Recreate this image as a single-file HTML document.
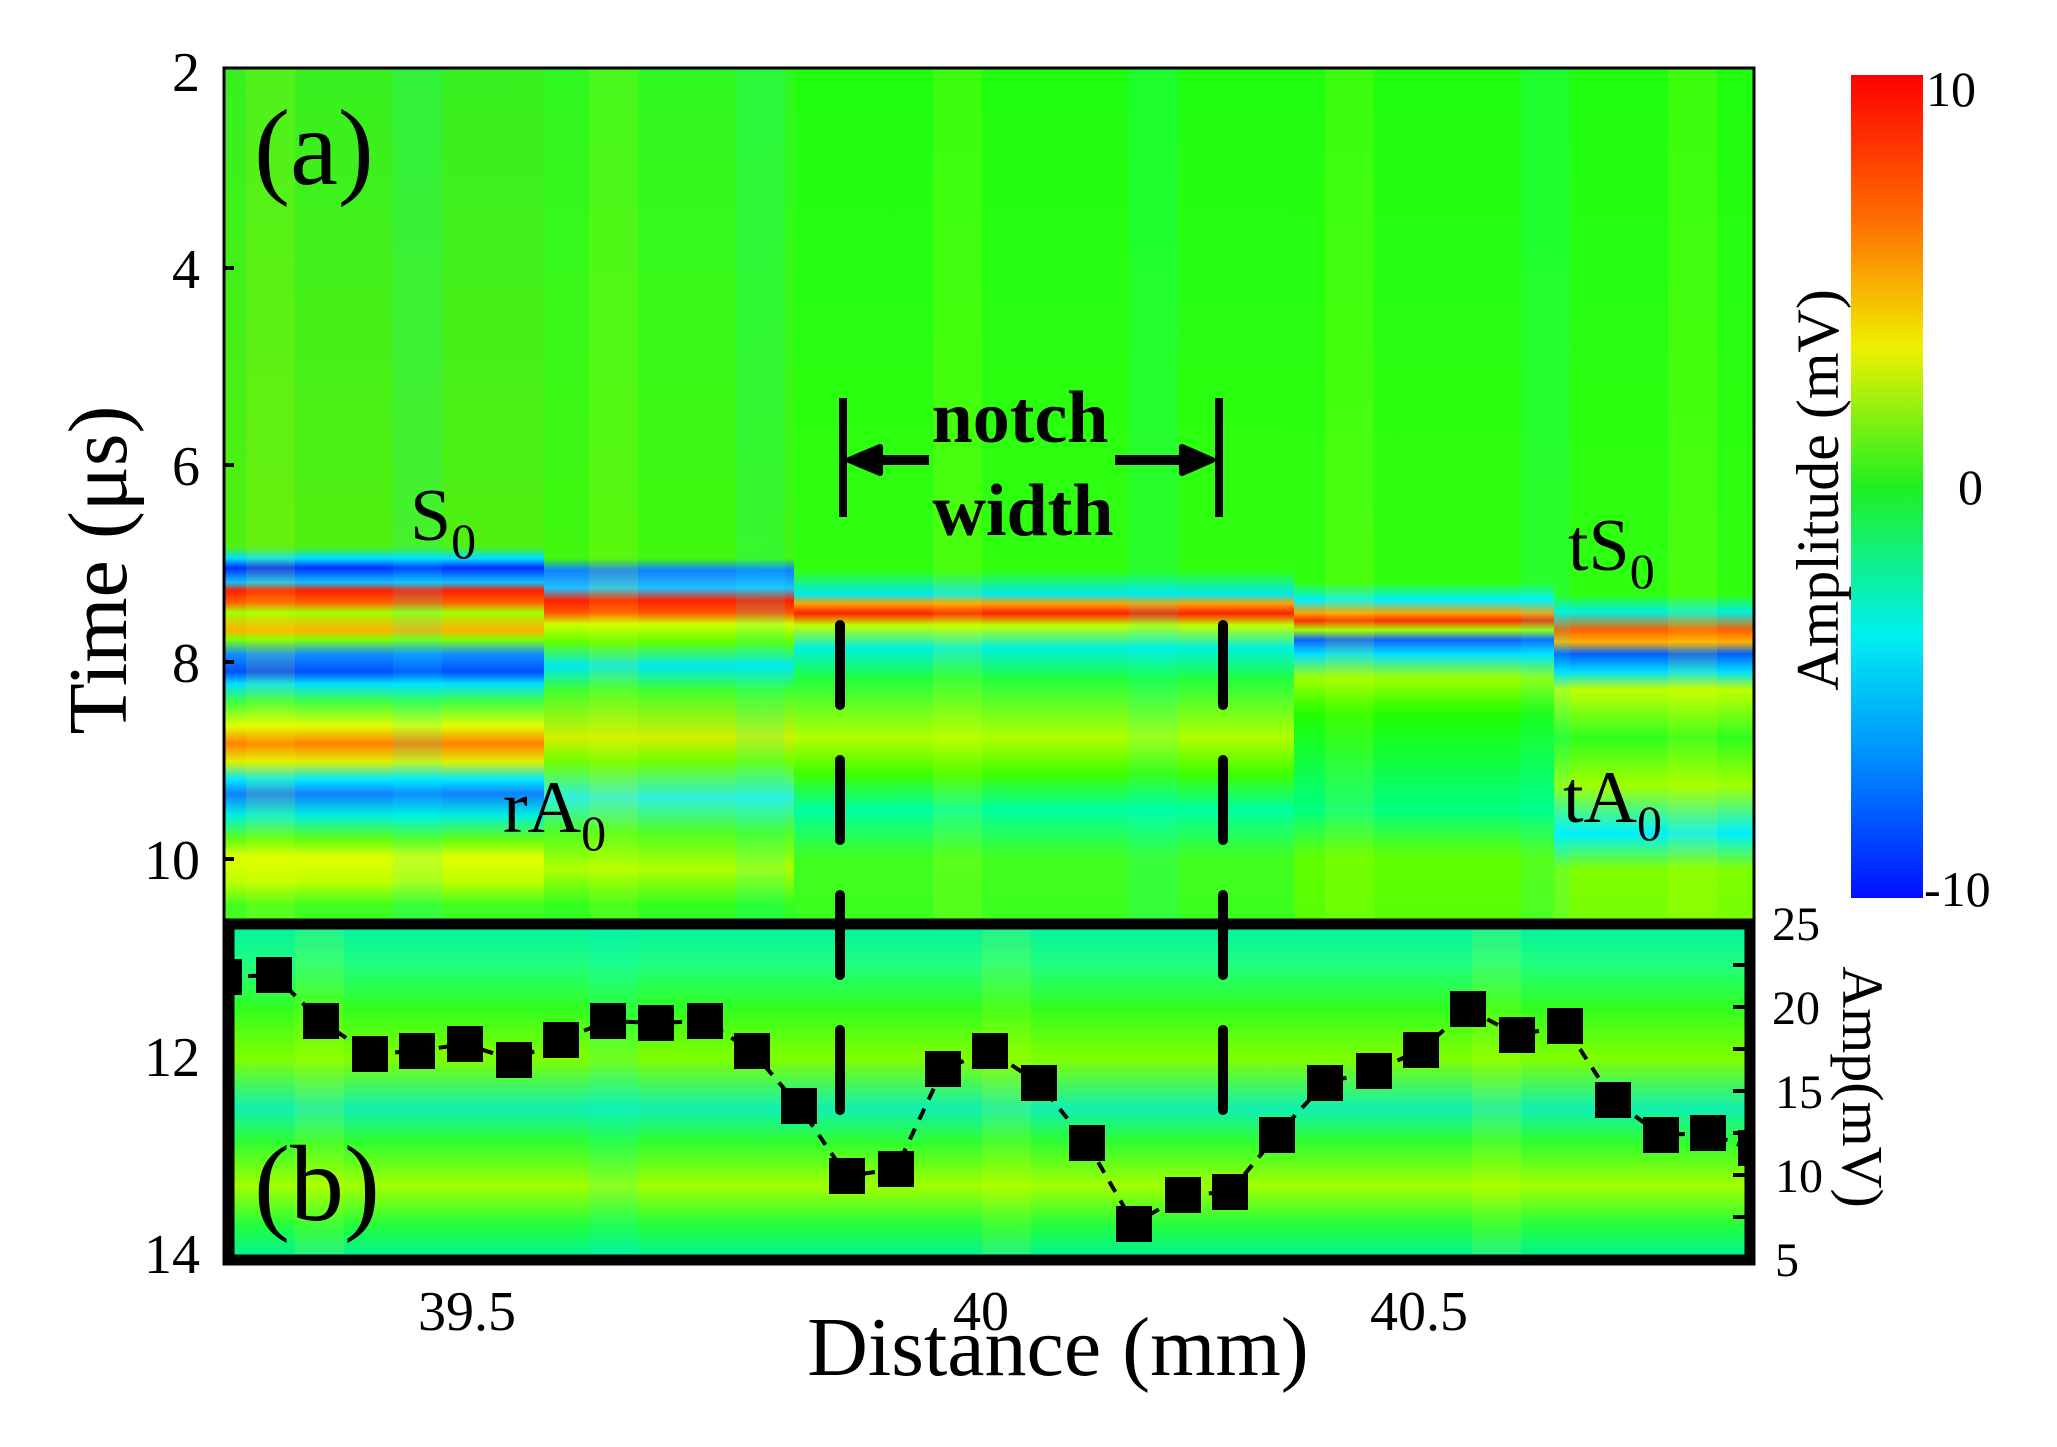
<!DOCTYPE html>
<html><head><meta charset="utf-8"><style>
html,body{margin:0;padding:0;background:#fff}
svg{display:block}
text{font-family:"Liberation Serif",serif;fill:#000}
</style></head><body>
<svg width="2057" height="1447" viewBox="0 0 2057 1447" xmlns="http://www.w3.org/2000/svg">
<defs>
<linearGradient id="gA" gradientUnits="userSpaceOnUse" x1="0" y1="68" x2="0" y2="1264">
<stop offset="0" stop-color="#38f020"/><stop offset="0.40" stop-color="#50f010"/><stop offset="0.41" stop-color="#00e0ff"/><stop offset="0.418" stop-color="#0030ff"/><stop offset="0.43" stop-color="#10c0ff"/><stop offset="0.437" stop-color="#ff2000"/><stop offset="0.447" stop-color="#ff6000"/><stop offset="0.455" stop-color="#a0ff00"/><stop offset="0.47" stop-color="#ffb000"/><stop offset="0.478" stop-color="#80ff00"/><stop offset="0.49" stop-color="#1090ff"/><stop offset="0.505" stop-color="#0050ff"/><stop offset="0.515" stop-color="#00e0ff"/><stop offset="0.53" stop-color="#40ff40"/><stop offset="0.55" stop-color="#e0ff00"/><stop offset="0.565" stop-color="#ff8000"/><stop offset="0.58" stop-color="#e0f000"/><stop offset="0.595" stop-color="#00e8ff"/><stop offset="0.607" stop-color="#1080ff"/><stop offset="0.625" stop-color="#00f0e0"/><stop offset="0.645" stop-color="#60ff10"/><stop offset="0.66" stop-color="#e0ff00"/><stop offset="0.68" stop-color="#c0ff00"/><stop offset="0.7" stop-color="#40ff20"/><stop offset="1" stop-color="#30ff30"/>
</linearGradient>
<linearGradient id="gB" gradientUnits="userSpaceOnUse" x1="0" y1="68" x2="0" y2="1264">
<stop offset="0" stop-color="#30f820"/><stop offset="0.41" stop-color="#40f810"/><stop offset="0.42" stop-color="#1080ff"/><stop offset="0.435" stop-color="#20c0ff"/><stop offset="0.445" stop-color="#ff2000"/><stop offset="0.455" stop-color="#ff5000"/><stop offset="0.465" stop-color="#d0ff00"/><stop offset="0.48" stop-color="#60ff00"/><stop offset="0.5" stop-color="#00e8f0"/><stop offset="0.52" stop-color="#40ff30"/><stop offset="0.56" stop-color="#d0f000"/><stop offset="0.58" stop-color="#70ff00"/><stop offset="0.61" stop-color="#30f0e0"/><stop offset="0.64" stop-color="#50ff20"/><stop offset="0.67" stop-color="#b0ff00"/><stop offset="0.7" stop-color="#30ff20"/><stop offset="1" stop-color="#20ff40"/>
</linearGradient>
<linearGradient id="gC" gradientUnits="userSpaceOnUse" x1="0" y1="68" x2="0" y2="1264">
<stop offset="0" stop-color="#20ff10"/><stop offset="0.42" stop-color="#30ff10"/><stop offset="0.44" stop-color="#00e8f0"/><stop offset="0.448" stop-color="#ffa000"/><stop offset="0.456" stop-color="#ff2000"/><stop offset="0.466" stop-color="#c0ff00"/><stop offset="0.485" stop-color="#00f0e0"/><stop offset="0.51" stop-color="#20ff40"/><stop offset="0.56" stop-color="#b0ff00"/><stop offset="0.59" stop-color="#40ff00"/><stop offset="0.62" stop-color="#00ffa0"/><stop offset="0.66" stop-color="#40ff20"/><stop offset="1" stop-color="#20ff20"/>
</linearGradient>
<linearGradient id="gD" gradientUnits="userSpaceOnUse" x1="0" y1="68" x2="0" y2="1264">
<stop offset="0" stop-color="#20ff10"/><stop offset="0.43" stop-color="#30ff10"/><stop offset="0.445" stop-color="#00f0ff"/><stop offset="0.456" stop-color="#ffa000"/><stop offset="0.462" stop-color="#ff3000"/><stop offset="0.47" stop-color="#a0ff00"/><stop offset="0.478" stop-color="#1060ff"/><stop offset="0.49" stop-color="#00e0ff"/><stop offset="0.51" stop-color="#a0ff00"/><stop offset="0.54" stop-color="#20ff00"/><stop offset="0.62" stop-color="#00ff80"/><stop offset="0.66" stop-color="#60ff00"/><stop offset="1" stop-color="#20ff20"/>
</linearGradient>
<linearGradient id="gE" gradientUnits="userSpaceOnUse" x1="0" y1="68" x2="0" y2="1264">
<stop offset="0" stop-color="#20ff10"/><stop offset="0.44" stop-color="#30ff10"/><stop offset="0.455" stop-color="#00f0e0"/><stop offset="0.47" stop-color="#ff6000"/><stop offset="0.48" stop-color="#ffb000"/><stop offset="0.49" stop-color="#0060ff"/><stop offset="0.505" stop-color="#00e0ff"/><stop offset="0.52" stop-color="#c0ff00"/><stop offset="0.56" stop-color="#30ff20"/><stop offset="0.6" stop-color="#a0ff00"/><stop offset="0.64" stop-color="#00f0ff"/><stop offset="0.67" stop-color="#80ff00"/><stop offset="1" stop-color="#30ff20"/>
</linearGradient>
<linearGradient id="gBox" x1="0" y1="0" x2="0" y2="1">
<stop offset="0" stop-color="#00f0a0"/><stop offset="0.12" stop-color="#20ff80"/><stop offset="0.25" stop-color="#30ff20"/><stop offset="0.4" stop-color="#80ff00"/><stop offset="0.55" stop-color="#10f0b0"/><stop offset="0.65" stop-color="#30ff30"/><stop offset="0.78" stop-color="#a0ff00"/><stop offset="0.9" stop-color="#20ff40"/><stop offset="1" stop-color="#00f0a0"/>
</linearGradient>
<linearGradient id="cb" x1="0" y1="0" x2="0" y2="1">
<stop offset="0" stop-color="#ff0000"/><stop offset="0.18" stop-color="#ff7000"/><stop offset="0.33" stop-color="#f0f000"/><stop offset="0.5" stop-color="#20f020"/><stop offset="0.68" stop-color="#00f0f0"/><stop offset="0.85" stop-color="#0080ff"/><stop offset="1" stop-color="#0010ff"/>
</linearGradient>
</defs>

<rect x="224" y="68" width="320" height="1196" fill="url(#gA)"/>
<rect x="544" y="68" width="250" height="1196" fill="url(#gB)"/>
<rect x="794" y="68" width="500" height="1196" fill="url(#gC)"/>
<rect x="1294" y="68" width="260" height="1196" fill="url(#gD)"/>
<rect x="1554" y="68" width="200" height="1196" fill="url(#gE)"/>
<g opacity="0.12">
<rect x="246" y="68" width="49" height="850" fill="#ffff00"/>
<rect x="393" y="68" width="49" height="850" fill="#00ffff"/>
<rect x="589" y="68" width="49" height="850" fill="#ffff00"/>
<rect x="736" y="68" width="49" height="850" fill="#00ffff"/>
<rect x="933" y="68" width="49" height="850" fill="#ffff00"/>
<rect x="1129" y="68" width="49" height="850" fill="#00ffff"/>
<rect x="1325" y="68" width="49" height="850" fill="#ffff00"/>
<rect x="1521" y="68" width="49" height="850" fill="#00ffff"/>
<rect x="1668" y="68" width="49" height="850" fill="#ffff00"/>
</g>
<rect x="224" y="68" width="1530" height="1196" fill="none" stroke="#000" stroke-width="3"/>

<rect x="229" y="924" width="1521" height="336" fill="url(#gBox)" stroke="#000" stroke-width="11"/>
<g opacity="0.12">
<rect x="295" y="930" width="49" height="324" fill="#ffff00"/>
<rect x="589" y="930" width="49" height="324" fill="#00ffff"/>
<rect x="982" y="930" width="49" height="324" fill="#ffff00"/>
<rect x="1472" y="930" width="49" height="324" fill="#ffff00"/>
</g>
<g stroke="#000" stroke-width="4">
<line x1="1733" y1="965" x2="1745" y2="965"/><line x1="1733" y1="1007" x2="1745" y2="1007"/>
<line x1="1733" y1="1049" x2="1745" y2="1049"/><line x1="1733" y1="1091" x2="1745" y2="1091"/>
<line x1="1733" y1="1133" x2="1745" y2="1133"/><line x1="1733" y1="1175" x2="1745" y2="1175"/>
<line x1="1733" y1="1217" x2="1745" y2="1217"/>
</g>
<g stroke="#000" stroke-width="4">
<line x1="224" y1="268" x2="234" y2="268"/><line x1="224" y1="465" x2="234" y2="465"/>
<line x1="224" y1="662" x2="234" y2="662"/><line x1="224" y1="859" x2="234" y2="859"/>
</g>

<polyline fill="none" stroke="#000" stroke-width="4" stroke-dasharray="12 10" points="226,977 274,975 321,1021 370,1054 417,1051 465,1044 514,1060 561,1040 608,1021 656,1023 705,1021 752,1051 799,1106 847,1176 896,1169 943,1069 990,1051 1039,1083 1087,1143 1134,1224 1183,1195 1230,1192 1277,1135 1325,1083 1374,1071 1421,1050 1468,1009 1517,1035 1565,1026 1613,1100 1661,1135 1708,1133 1748,1148"/>
<g fill="#000">
<rect x="224" y="959" width="18" height="36"/>
<rect x="256" y="957" width="36" height="36"/><rect x="303" y="1003" width="36" height="36"/>
<rect x="352" y="1036" width="36" height="36"/><rect x="399" y="1033" width="36" height="36"/>
<rect x="447" y="1026" width="36" height="36"/><rect x="496" y="1042" width="36" height="36"/>
<rect x="543" y="1022" width="36" height="36"/><rect x="590" y="1003" width="36" height="36"/>
<rect x="638" y="1005" width="36" height="36"/><rect x="687" y="1003" width="36" height="36"/>
<rect x="734" y="1033" width="36" height="36"/><rect x="781" y="1088" width="36" height="36"/>
<rect x="829" y="1158" width="36" height="36"/><rect x="878" y="1151" width="36" height="36"/>
<rect x="925" y="1051" width="36" height="36"/><rect x="972" y="1033" width="36" height="36"/>
<rect x="1021" y="1065" width="36" height="36"/><rect x="1069" y="1125" width="36" height="36"/>
<rect x="1116" y="1206" width="36" height="36"/><rect x="1165" y="1177" width="36" height="36"/>
<rect x="1212" y="1174" width="36" height="36"/><rect x="1259" y="1117" width="36" height="36"/>
<rect x="1307" y="1065" width="36" height="36"/><rect x="1356" y="1053" width="36" height="36"/>
<rect x="1403" y="1032" width="36" height="36"/><rect x="1450" y="991" width="36" height="36"/>
<rect x="1499" y="1017" width="36" height="36"/><rect x="1547" y="1008" width="36" height="36"/>
<rect x="1595" y="1082" width="36" height="36"/><rect x="1643" y="1117" width="36" height="36"/>
<rect x="1690" y="1115" width="36" height="36"/><rect x="1738" y="1130" width="16" height="36"/>
</g>

<g stroke="#000" stroke-width="10" stroke-linecap="round" stroke-dasharray="80 55">
<line x1="840" y1="625" x2="840" y2="1115"/>
<line x1="1223" y1="625" x2="1223" y2="1115"/>
</g>
<g stroke="#000" stroke-width="8">
<line x1="843" y1="398" x2="843" y2="517"/><line x1="1219" y1="398" x2="1219" y2="517"/>
<line x1="870" y1="460" x2="929" y2="460" stroke-width="10"/>
<line x1="1115" y1="460" x2="1190" y2="460" stroke-width="10"/>
</g>
<polygon points="849,460 880,447 880,473" fill="#000" stroke="#000" stroke-width="6" stroke-linejoin="round"/>
<polygon points="1212,460 1182,447 1182,473" fill="#000" stroke="#000" stroke-width="6" stroke-linejoin="round"/>
<text x="1020" y="442" font-size="74" font-weight="bold" text-anchor="middle">notch</text>
<text x="1023" y="535" font-size="74" font-weight="bold" text-anchor="middle">width</text>

<text x="254" y="184" font-size="108">(a)</text>
<text x="254" y="1220" font-size="108">(b)</text>
<text x="410" y="540" font-size="74">S<tspan font-size="50" dy="18">0</tspan></text>
<text x="1568" y="570" font-size="74">tS<tspan font-size="50" dy="18">0</tspan></text>
<text x="503" y="832" font-size="74">rA<tspan font-size="50" dy="18">0</tspan></text>
<text x="1563" y="822" font-size="74">tA<tspan font-size="50" dy="18">0</tspan></text>

<g font-size="56" text-anchor="end">
<text x="200" y="91">2</text><text x="200" y="288">4</text><text x="200" y="485">6</text>
<text x="200" y="682">8</text><text x="200" y="879">10</text><text x="200" y="1076">12</text>
<text x="200" y="1273">14</text>
</g>
<text transform="translate(126,570) rotate(-90)" font-size="84" text-anchor="middle">Time (μs)</text>

<g font-size="56" text-anchor="middle">
<text x="467" y="1330">39.5</text><text x="981" y="1330">40</text><text x="1419" y="1330">40.5</text>
</g>
<text x="1058" y="1375" font-size="84" text-anchor="middle">Distance (mm)</text>

<g font-size="48">
<text x="1772" y="940">25</text><text x="1772" y="1024">20</text><text x="1775" y="1108">15</text>
<text x="1775" y="1192">10</text><text x="1775" y="1276">5</text>
</g>
<text transform="translate(1843,1087) rotate(90)" font-size="58" text-anchor="middle">Amp(mV)</text>

<rect x="1851" y="75" width="72" height="823" fill="url(#cb)"/>
<text x="1926" y="106" font-size="50">10</text>
<text x="1958" y="504" font-size="50">0</text>
<text x="1924" y="906" font-size="50">-10</text>
<text transform="translate(1838,490) rotate(-90)" font-size="60" text-anchor="middle">Amplitude (mV)</text>
</svg>
</body></html>
